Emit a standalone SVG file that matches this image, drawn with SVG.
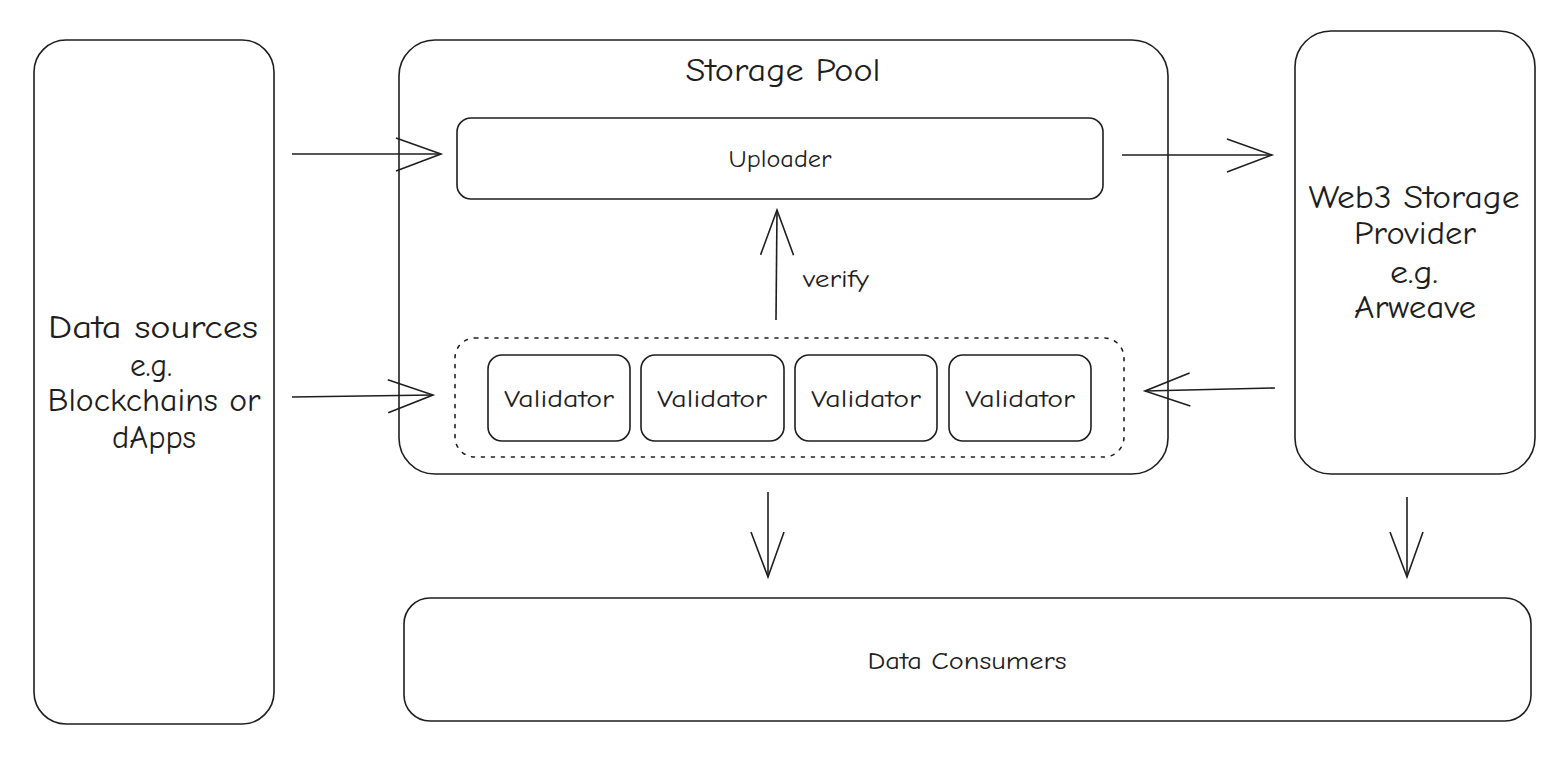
<svg xmlns="http://www.w3.org/2000/svg" width="1568" height="762" viewBox="0 0 1568 762">
<style>
.b{fill:none;stroke:#1e1e1e;stroke-width:1.6}
.d{fill:none;stroke:#1e1e1e;stroke-width:1.6;stroke-dasharray:3 7;stroke-linecap:round}
.c{fill:none;stroke:#1e1e1e;stroke-width:1.6}
text{font-family:"Comic Neue","Liberation Sans",sans-serif;fill:#1e1e1e;text-anchor:middle;dominant-baseline:central}
.l{font-size:33px}
.m{font-size:25px}
</style>
<defs>
<marker id="ah" markerUnits="userSpaceOnUse" markerWidth="60" markerHeight="40" refX="0" refY="0" viewBox="-50 -20 52 40" orient="auto" overflow="visible">
<path d="M-45,-16 L0,0 L-45,17" fill="none" stroke="#1e1e1e" stroke-width="1.6"/>
</marker>
</defs>
<rect width="1568" height="762" fill="#ffffff"/>
<g id="data-sources">
<rect class="b" x="34" y="40" width="240" height="684" rx="32"/>
<text class="l" x="153" y="327" textLength="210" lengthAdjust="spacingAndGlyphs">Data sources</text>
<text class="l" x="151" y="365" textLength="42" lengthAdjust="spacingAndGlyphs">e.g.</text>
<text class="l" x="154" y="400" textLength="213" lengthAdjust="spacingAndGlyphs">Blockchains or</text>
<text class="l" x="154" y="437" textLength="84" lengthAdjust="spacingAndGlyphs">dApps</text>
</g>
<g id="storage-pool">
<rect class="b" x="399" y="40" width="769" height="434" rx="36"/>
<text class="l" x="783" y="70" textLength="195" lengthAdjust="spacingAndGlyphs">Storage Pool</text>
</g>
<g id="uploader">
<rect class="b" x="457" y="118" width="646" height="81" rx="14"/>
<text class="m" x="780" y="158" textLength="103" lengthAdjust="spacingAndGlyphs">Uploader</text>
</g>
<g id="validators">
<rect class="d" x="455" y="338" width="669" height="119" rx="20"/>
</g>
<g id="validator-1">
<rect class="b" x="488" y="355" width="142" height="86" rx="14"/>
<text class="m" x="559" y="398" textLength="110" lengthAdjust="spacingAndGlyphs">Validator</text>
</g>
<g id="validator-2">
<rect class="b" x="641" y="355" width="143" height="86" rx="14"/>
<text class="m" x="712" y="398" textLength="110" lengthAdjust="spacingAndGlyphs">Validator</text>
</g>
<g id="validator-3">
<rect class="b" x="795" y="355" width="142" height="86" rx="14"/>
<text class="m" x="866" y="398" textLength="110" lengthAdjust="spacingAndGlyphs">Validator</text>
</g>
<g id="validator-4">
<rect class="b" x="949" y="355" width="142" height="86" rx="14"/>
<text class="m" x="1020" y="398" textLength="110" lengthAdjust="spacingAndGlyphs">Validator</text>
</g>
<g id="web3-storage">
<rect class="b" x="1295" y="31" width="240" height="443" rx="36"/>
<text class="l" x="1414" y="197" textLength="211" lengthAdjust="spacingAndGlyphs">Web3 Storage</text>
<text class="l" x="1415" y="233" textLength="122" lengthAdjust="spacingAndGlyphs">Provider</text>
<text class="l" x="1414" y="272" textLength="48" lengthAdjust="spacingAndGlyphs">e.g.</text>
<text class="l" x="1415" y="307" textLength="122" lengthAdjust="spacingAndGlyphs">Arweave</text>
</g>
<g id="data-consumers">
<rect class="b" x="404" y="598" width="1127" height="123" rx="26"/>
<text class="m" x="967" y="660" textLength="199" lengthAdjust="spacingAndGlyphs">Data Consumers</text>
</g>
<g id="connectors">
<line class="c" x1="292" y1="154" x2="441" y2="154" marker-end="url(#ah)"/>
<line class="c" x1="292" y1="397" x2="433" y2="395" marker-end="url(#ah)"/>
<line class="c" x1="1122" y1="155" x2="1272" y2="155" marker-end="url(#ah)"/>
<line class="c" x1="1275" y1="388" x2="1145" y2="391" marker-end="url(#ah)"/>
<line class="c" x1="776" y1="320" x2="777" y2="210" marker-end="url(#ah)"/>
<line class="c" x1="768" y1="492" x2="768" y2="577" marker-end="url(#ah)"/>
<line class="c" x1="1407" y1="497" x2="1407" y2="577" marker-end="url(#ah)"/>
<text class="m" x="836" y="278" textLength="66" lengthAdjust="spacingAndGlyphs">verify</text>
</g>
</svg>
